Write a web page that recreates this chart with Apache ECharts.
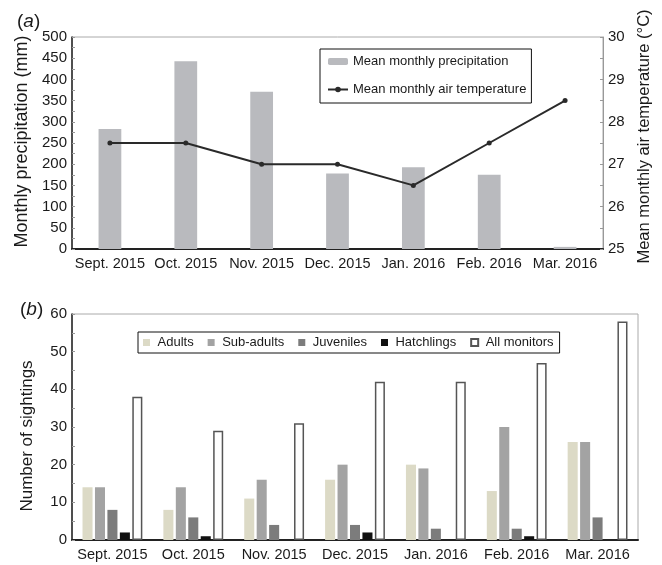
<!DOCTYPE html>
<html>
<head>
<meta charset="utf-8">
<script src="https://cdn.jsdelivr.net/npm/echarts@6/dist/echarts.min.js"></script>
<style>
  html, body { margin: 0; padding: 0; background: #fff; }
  #chart { width: 662px; height: 565px; }
</style>
</head>
<body>
<div id="chart"></div>
<script>
// Months shared by both panels
const months = ['Sept. 2015', 'Oct. 2015', 'Nov. 2015', 'Dec. 2015', 'Jan. 2016', 'Feb. 2016', 'Mar. 2016'];

// Panel (a): climate
const precipitation = [283, 443, 371, 178, 193, 175, 5];       // mm
const airTemperature = [27.5, 27.5, 27, 27, 26.5, 27.5, 28.5];  // °C

// Panel (b): sightings by age class
const adults = [14, 8, 11, 16, 20, 13, 26];
const subAdults = [14, 14, 16, 20, 19, 30, 26];
const juveniles = [8, 6, 4, 4, 3, 3, 6];
const hatchlings = [2, 1, 0, 2, 0, 1, 0];
const allMonitors = [38, 29, 31, 42, 42, 47, 58];

const FONT = 'Liberation Sans, Arial, sans-serif';
const TXT = '#1a1a1a';
const SQUARE = 'path://M0,0H10V10H0Z';

const chart = echarts.init(document.getElementById('chart'), null, { renderer: 'canvas' });

const valueAxisBase = {
  type: 'value',
  axisLine: { show: true, lineStyle: { color: '#222', width: 1.5 } },
  axisTick: { show: true, inside: true, length: 3, lineStyle: { color: '#999' } },
  minorTick: { show: true, splitNumber: 2, length: 3, lineStyle: { color: '#999' } },
  splitLine: { show: false },
  axisLabel: { color: TXT, fontFamily: FONT, fontSize: 15, margin: 5 },
  nameLocation: 'middle'
};

const categoryAxisBase = {
  type: 'category',
  data: months,
  axisLine: { show: true, lineStyle: { color: '#222', width: 2 } },
  axisTick: { show: false },
  axisLabel: { color: TXT, fontFamily: FONT, fontSize: 14.5, margin: 7, interval: 0 }
};

function panelLabel(letter, x, y) {
  return {
    type: 'text', left: x, top: y,
    style: {
      text: '({i|' + letter + '})',
      fontFamily: FONT, fontSize: 19, fill: TXT,
      rich: { i: { fontFamily: FONT, fontSize: 19, fontStyle: 'italic', fill: TXT } }
    }
  };
}

chart.setOption({
  animation: false,
  backgroundColor: '#fff',
  graphic: [panelLabel('a', 17, 12), panelLabel('b', 20, 300)],
  grid: [
    { left: 72, top: 37, width: 531, height: 212, show: true, borderColor: '#aaa', borderWidth: 1, backgroundColor: 'transparent' },
    { left: 72, top: 314, width: 566, height: 226, show: true, borderColor: '#aaa', borderWidth: 1, backgroundColor: 'transparent' }
  ],
  legend: [
    {
      orient: 'vertical',
      left: 320, top: 49,
      data: ['Mean monthly precipitation', 'Mean monthly air temperature'],
      itemWidth: 20, itemHeight: 7, itemGap: 15,
      padding: [6, 5, 7, 7],
      borderColor: '#111', borderWidth: 1, borderRadius: 0,
      backgroundColor: '#fff',
      textStyle: { color: TXT, fontFamily: FONT, fontSize: 13 }
    },
    {
      orient: 'horizontal',
      left: 138, top: 332,
      data: [
        { name: 'Adults', icon: SQUARE },
        { name: 'Sub-adults', icon: SQUARE },
        { name: 'Juveniles', icon: SQUARE },
        { name: 'Hatchlings', icon: SQUARE },
        { name: 'All monitors', icon: SQUARE }
      ],
      symbolKeepAspect: true,
      itemWidth: 12, itemHeight: 7, itemGap: 14,
      padding: [4, 6, 4, 5],
      borderColor: '#111', borderWidth: 1, borderRadius: 0,
      backgroundColor: '#fff',
      textStyle: { color: TXT, fontFamily: FONT, fontSize: 13 }
    }
  ],
  xAxis: [
    Object.assign({}, categoryAxisBase, { gridIndex: 0 }),
    Object.assign({}, categoryAxisBase, { gridIndex: 1 })
  ],
  yAxis: [
    Object.assign({}, valueAxisBase, {
      gridIndex: 0, min: 0, max: 500, interval: 50,
      name: 'Monthly precipitation (mm)', nameGap: 32,
      nameTextStyle: { color: TXT, fontFamily: FONT, fontSize: 18, padding: [0, 0, 0, 3] }
    }),
    Object.assign({}, valueAxisBase, {
      gridIndex: 0, position: 'right', min: 25, max: 30, interval: 1,
      axisLine: { show: true, lineStyle: { color: '#999', width: 1 } },
      name: 'Mean monthly air temperature (\u00B0C)', nameGap: 31,
      nameTextStyle: { color: TXT, fontFamily: FONT, fontSize: 16.5, padding: [0, 0, 0, 13] }
    }),
    Object.assign({}, valueAxisBase, {
      gridIndex: 1, min: 0, max: 60, interval: 10,
      name: 'Number of sightings', nameGap: 36,
      nameTextStyle: { color: TXT, fontFamily: FONT, fontSize: 17, padding: [0, 18, 0, 0] }
    })
  ],
  series: [
    {
      name: 'Mean monthly precipitation', type: 'bar',
      xAxisIndex: 0, yAxisIndex: 0, data: precipitation,
      barCategoryGap: '70%',
      itemStyle: { color: '#b9babe' }
    },
    {
      name: 'Mean monthly air temperature', type: 'line',
      xAxisIndex: 0, yAxisIndex: 1, data: airTemperature,
      symbol: 'circle', symbolSize: 5,
      lineStyle: { color: '#2a2a2a', width: 2 },
      itemStyle: { color: '#2a2a2a' }
    },
    {
      name: 'Adults', type: 'bar', xAxisIndex: 1, yAxisIndex: 2, data: adults,
      barGap: '24%', barCategoryGap: '26%',
      itemStyle: { color: '#dcdac6' }
    },
    {
      name: 'Sub-adults', type: 'bar', xAxisIndex: 1, yAxisIndex: 2, data: subAdults,
      barGap: '24%', barCategoryGap: '26%',
      itemStyle: { color: '#a3a3a3' }
    },
    {
      name: 'Juveniles', type: 'bar', xAxisIndex: 1, yAxisIndex: 2, data: juveniles,
      barGap: '24%', barCategoryGap: '26%',
      itemStyle: { color: '#7c7c7c' }
    },
    {
      name: 'Hatchlings', type: 'bar', xAxisIndex: 1, yAxisIndex: 2, data: hatchlings,
      barGap: '24%', barCategoryGap: '26%',
      itemStyle: { color: '#111' }
    },
    {
      name: 'All monitors', type: 'bar', xAxisIndex: 1, yAxisIndex: 2, data: allMonitors,
      barGap: '24%', barCategoryGap: '26%',
      itemStyle: { color: '#fff', borderColor: '#555', borderWidth: 1.5 }
    }
  ]
});
</script>
</body>
</html>
